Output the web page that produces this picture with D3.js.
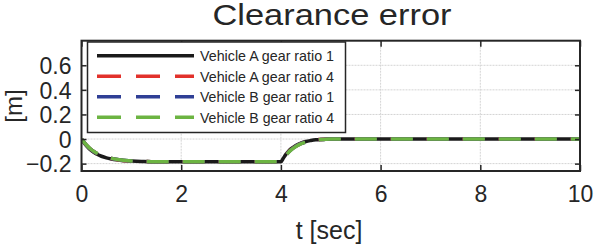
<!DOCTYPE html>
<html>
<head>
<meta charset="utf-8">
<script src="https://cdn.jsdelivr.net/npm/d3@7"></script>
<style>
  body { margin: 0; background: #fff; }
  svg { display: block; font-family: Arial, "Liberation Sans", sans-serif; }
</style>
</head>
<body>
<svg id="chart" width="604" height="245"></svg>
<script>
// time samples [sec]
const times = [0, 0.1, 0.2, 0.3, 0.4, 0.5, 0.6, 0.7, 0.8, 0.9, 1.0, 1.2, 1.4, 1.7, 2, 3, 4,
  4.05, 4.1, 4.15, 4.2, 4.3, 4.4, 4.5, 4.6, 4.7, 4.8, 4.9, 5.0, 6, 8, 10];

// clearance error [m] for each run
const vehAGear1 = [0, -0.055, -0.095, -0.122, -0.14, -0.153, -0.162, -0.169, -0.174, -0.177, -0.179, -0.182, -0.184, -0.185, -0.185, -0.185, -0.185,
  -0.155, -0.125, -0.1, -0.08, -0.052, -0.033, -0.02, -0.012, -0.006, -0.003, -0.001, 0, 0, 0, 0];
const vehAGear4 = [0, -0.05, -0.089, -0.116, -0.135, -0.149, -0.159, -0.166, -0.172, -0.176, -0.178, -0.182, -0.184, -0.185, -0.185, -0.185, -0.185,
  -0.16, -0.132, -0.107, -0.087, -0.058, -0.037, -0.023, -0.014, -0.007, -0.003, -0.001, 0, 0, 0, 0];
const vehBGear1 = [0, -0.049, -0.088, -0.115, -0.134, -0.148, -0.158, -0.165, -0.171, -0.175, -0.178, -0.182, -0.184, -0.185, -0.185, -0.185, -0.185,
  -0.161, -0.134, -0.109, -0.089, -0.059, -0.038, -0.024, -0.015, -0.008, -0.004, -0.001, 0, 0, 0, 0];
const vehBGear4 = [0, -0.048, -0.087, -0.114, -0.133, -0.147, -0.157, -0.165, -0.171, -0.175, -0.178, -0.182, -0.184, -0.185, -0.185, -0.185, -0.185,
  -0.162, -0.135, -0.11, -0.09, -0.06, -0.039, -0.025, -0.015, -0.008, -0.004, -0.001, 0, 0, 0, 0];

const seriesNames = ["Vehicle A gear ratio 1", "Vehicle A gear ratio 4", "Vehicle B gear ratio 1", "Vehicle B gear ratio 4"];
const seriesValues = [vehAGear1, vehAGear4, vehBGear1, vehBGear4];
const seriesColors = ["#1a1a1a", "#e2312b", "#2f3f95", "#6cb442"];
const seriesDash = [null, "22,14", "22,14", "22,14"];

const xTicks = [0, 2, 4, 6, 8, 10];
const yTicks = [-0.2, 0, 0.2, 0.4, 0.6];

const svg = d3.select("#chart");
const plotL = 81.5, plotR = 580, plotT = 40.7, plotB = 171;
const frameColor = "#262626";

const x = d3.scaleLinear().domain([0, 10]).range([plotL, plotR]);
const y = d3.scaleLinear().domain([-0.26, 0.8]).range([plotB, plotT]);

// grid
const grid = svg.append("g").attr("stroke", "#d4d4d4").attr("stroke-width", 1).attr("stroke-dasharray", "2,1");
grid.selectAll(".gx").data(xTicks.slice(1, -1)).enter().append("line")
  .attr("x1", d => x(d)).attr("x2", d => x(d)).attr("y1", plotT).attr("y2", plotB);
grid.selectAll(".gy").data(yTicks).enter().append("line")
  .attr("x1", plotL).attr("x2", plotR).attr("y1", d => y(d)).attr("y2", d => y(d));

// lines
svg.append("clipPath").attr("id", "clip").append("rect")
  .attr("x", plotL).attr("y", plotT).attr("width", plotR - plotL).attr("height", plotB - plotT);

const line = d3.line().x((d, i) => x(times[i])).y(d => y(d)).curve(d3.curveMonotoneX);

svg.append("g").attr("clip-path", "url(#clip)")
  .selectAll("path").data(seriesValues).enter().append("path")
  .attr("d", d => line(d))
  .attr("fill", "none")
  .attr("stroke", (d, i) => seriesColors[i])
  .attr("stroke-width", 3.5)
  .attr("stroke-dasharray", (d, i) => seriesDash[i]);

// axes with inward ticks
const axL = svg.append("g").attr("transform", `translate(${plotL},0)`)
  .call(d3.axisLeft(y).tickValues(yTicks).tickSize(-5).tickPadding(10).tickFormat(d => d === 0 ? "0" : d3.format(".1f")(d)));
const axR = svg.append("g").attr("transform", `translate(${plotR},0)`)
  .call(d3.axisRight(y).tickValues(yTicks).tickSize(-5).tickFormat(""));
const axB = svg.append("g").attr("transform", `translate(0,${plotB})`)
  .call(d3.axisBottom(x).tickValues(xTicks).tickSize(-6).tickPadding(14).tickFormat(d3.format("d")));
const axT = svg.append("g").attr("transform", `translate(0,${plotT})`)
  .call(d3.axisTop(x).tickValues(xTicks).tickSize(-6).tickFormat(""));

[axL, axR, axB, axT].forEach(a => {
  a.select(".domain").remove();
  a.selectAll(".tick line").attr("stroke", frameColor).attr("stroke-width", 1.5);
  a.selectAll("text").attr("fill", "#262626").attr("font-size", 23).attr("font-family", "Arial, 'Liberation Sans', sans-serif");
});
axL.selectAll("text").attr("dy", "0.36em");
axB.selectAll("text").attr("dy", "0.76em");

// frame
svg.append("rect").attr("x", plotL).attr("y", plotT).attr("width", plotR - plotL).attr("height", plotB - plotT)
  .attr("fill", "none").attr("stroke", frameColor).attr("stroke-width", 2);

// legend
const legend = svg.append("g");
legend.append("rect").attr("x", 87.5).attr("y", 42).attr("width", 258).attr("height", 90.5)
  .attr("fill", "#fff").attr("stroke", frameColor).attr("stroke-width", 1.5);
const rows = legend.selectAll(".row").data(seriesNames).enter().append("g")
  .attr("transform", (d, i) => `translate(0,${55.7 + i * 20.5})`);
rows.append("line").attr("x1", 97).attr("x2", 194).attr("y1", 0).attr("y2", 0)
  .attr("stroke", (d, i) => seriesColors[i])
  .attr("stroke-width", 3.5)
  .attr("stroke-dasharray", (d, i) => seriesDash[i] ? "24,15" : null);
rows.append("text").attr("x", 200).attr("y", 5.5).text(d => d)
  .attr("font-size", 15).attr("fill", "#262626")
  .attr("textLength", 134).attr("lengthAdjust", "spacingAndGlyphs");

// title and labels
svg.append("text").attr("x", 332).attr("y", 25).attr("text-anchor", "middle")
  .attr("font-size", 29).attr("fill", "#262626")
  .attr("textLength", 239).attr("lengthAdjust", "spacingAndGlyphs")
  .text("Clearance error");
svg.append("text").attr("x", 329).attr("y", 239).attr("text-anchor", "middle")
  .attr("font-size", 25).attr("fill", "#262626").text("t [sec]");
svg.append("text").attr("transform", "translate(22,106) rotate(-90)").attr("text-anchor", "middle")
  .attr("font-size", 24).attr("fill", "#262626").text("[m]");
</script>
</body>
</html>
